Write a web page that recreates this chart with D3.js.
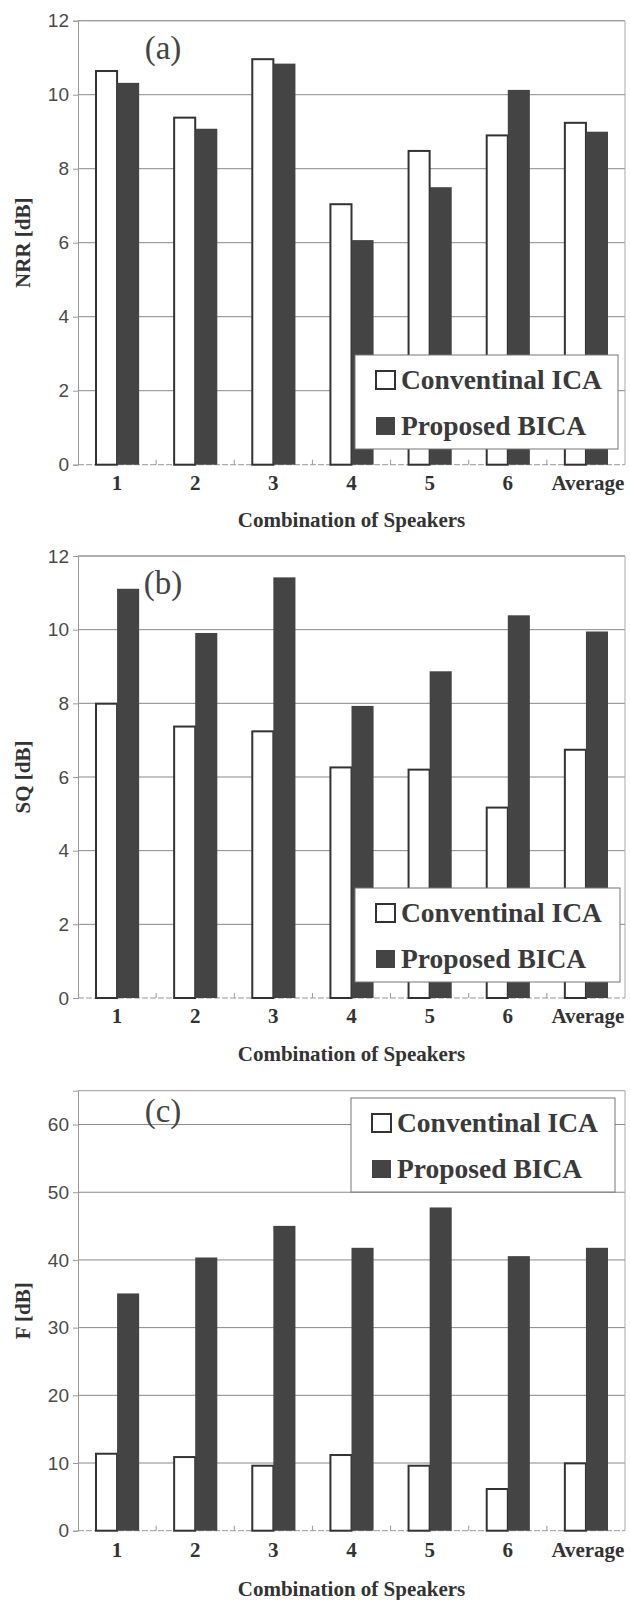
<!DOCTYPE html>
<html><head><meta charset="utf-8">
<script src="https://cdn.jsdelivr.net/npm/d3@7"></script>
<style>body{margin:0;background:#fff}svg{display:block}</style>
</head><body>
<script>
const categories = ["1","2","3","4","5","6","Average"];
const seriesNames = ["Conventinal ICA","Proposed BICA"];
const nrrConventional = [10.64,9.38,10.96,7.04,8.48,8.90,9.24];
const nrrProposed     = [10.32,9.08,10.84,6.07,7.50,10.13,9.00];
const sqConventional  = [7.99,7.37,7.24,6.26,6.20,5.17,6.74];
const sqProposed      = [11.11,9.91,11.42,7.93,8.87,10.39,9.95];
const fConventional   = [11.37,10.88,9.60,11.18,9.60,6.16,9.95];
const fProposed       = [35.05,40.36,45.03,41.79,47.75,40.56,41.79];
const nrrTicks = [0,2,4,6,8,10,12];
const sqTicks  = [0,2,4,6,8,10,12];
const fTicks   = [0,10,20,30,40,50,60];
const xTitle = "Combination of Speakers";

const panels = [
  {label:"(a)", yTitle:"NRR [dB]", a:nrrConventional, b:nrrProposed, ticks:nrrTicks, max:12,
   top:20.7, bottom:464.7, labelY:59, tickY:490, titleY:527, leg:{x:355,y:355,w:263,h:94}},
  {label:"(b)", yTitle:"SQ [dB]", a:sqConventional, b:sqProposed, ticks:sqTicks, max:12,
   top:556, bottom:998, labelY:594, tickY:1023, titleY:1061, leg:{x:355,y:888,w:265,h:94}},
  {label:"(c)", yTitle:"F [dB]", a:fConventional, b:fProposed, ticks:fTicks, max:65,
   top:1090.7, bottom:1530.7, labelY:1122, tickY:1557, titleY:1596, leg:{x:351,y:1098,w:264,h:94}}
];

const W = 630, H = 1600, left = 78, right = 625;
const svg = d3.select("body").append("svg").attr("width",W).attr("height",H);
const serif = "'Liberation Serif','Times New Roman',serif";
const sans = "'Liberation Sans',Arial,sans-serif";

const x0 = d3.scaleBand().domain(categories).range([left,right]).paddingInner(0.435).paddingOuter(0.2175);
const x1 = d3.scaleBand().domain(seriesNames).range([0,x0.bandwidth()]).padding(0);

panels.forEach(p => {
  const g = svg.append("g");
  const y = d3.scaleLinear().domain([0,p.max]).range([p.bottom,p.top]);

  // grid lines
  g.selectAll(".grid").data(p.ticks.filter(t=>t>0)).join("line")
    .attr("x1",left).attr("x2",right).attr("y1",d=>y(d)).attr("y2",d=>y(d))
    .attr("stroke","#8a8a8a").attr("stroke-width",1);
  // frame
  g.append("line").attr("x1",left).attr("x2",right).attr("y1",p.top).attr("y2",p.top).attr("stroke","#9a9a9a");
  g.append("line").attr("x1",right).attr("x2",right).attr("y1",p.top).attr("y2",p.bottom).attr("stroke","#aaa");

  // y axis
  const ya = d3.axisLeft(y).tickValues(p.ticks).tickSize(5).tickPadding(4).tickFormat(d3.format("d"));
  const yg = g.append("g").attr("transform",`translate(${left},0)`).call(ya);
  yg.select(".domain").attr("stroke","#999");
  yg.selectAll(".tick line").attr("stroke","#999");
  yg.selectAll("text").attr("font-family",sans).attr("font-size",19).attr("fill","#4a4a4a");

  // x axis baseline + boundary ticks
  g.append("line").attr("x1",left).attr("x2",right).attr("y1",p.bottom).attr("y2",p.bottom)
    .attr("stroke","#999").attr("stroke-dasharray","6,2");
  const bounds = categories.slice(1).map(c => x0(c) - x0.step()*x0.paddingInner()/2);
  g.selectAll(".bt").data(bounds).join("line")
    .attr("x1",d=>d).attr("x2",d=>d).attr("y1",p.bottom).attr("y2",p.bottom-5).attr("stroke","#999");

  // bars
  const rows = categories.map((c,i)=>({c, vals:[{s:seriesNames[0],v:p.a[i]},{s:seriesNames[1],v:p.b[i]}]}));
  const cg = g.selectAll(".cat").data(rows).join("g").attr("transform",d=>`translate(${x0(d.c)},0)`);
  cg.selectAll("rect").data(d=>d.vals).join("rect")
    .attr("x",d=>x1(d.s)+(d.s===seriesNames[0]?1:0))
    .attr("width",d=>x1.bandwidth()-(d.s===seriesNames[0]?1:0))
    .attr("y",d=>y(d.v)).attr("height",d=>y(0)-y(d.v))
    .attr("fill",d=>d.s===seriesNames[0]?"#fff":"#444")
    .attr("stroke",d=>d.s===seriesNames[0]?"#333":"none")
    .attr("stroke-width",2);

  // x tick labels
  g.selectAll(".xl").data(categories).join("text")
    .attr("x",d=>x0(d)+x0.bandwidth()/2 + (d==="Average"?2:0)).attr("y",p.tickY)
    .attr("text-anchor","middle").attr("font-family",serif).attr("font-weight","bold")
    .attr("font-size",21).attr("fill","#333").text(d=>d);

  // x title
  g.append("text").attr("x",351.5).attr("y",p.titleY).attr("text-anchor","middle")
    .attr("font-family",serif).attr("font-weight","bold").attr("font-size",21).attr("fill","#333").text(xTitle);

  // y title
  g.append("text").attr("transform",`translate(30,${(p.top+p.bottom)/2}) rotate(-90)`)
    .attr("text-anchor","middle").attr("font-family",serif).attr("font-weight","bold")
    .attr("font-size",21).attr("fill","#333").text(p.yTitle);

  // panel label
  g.append("text").attr("x",163).attr("y",p.labelY).attr("text-anchor","middle")
    .attr("font-family",serif).attr("font-size",33).attr("fill","#444").text(p.label);

  // legend
  const L = p.leg;
  const lg = g.append("g").attr("transform",`translate(${L.x},${L.y})`);
  lg.append("rect").attr("width",L.w).attr("height",L.h).attr("fill","#fff").attr("stroke","#777");
  seriesNames.forEach((s,i)=>{
    const by = 34 + i*46;
    lg.append("rect").attr("x",21).attr("y",by-18).attr("width",19).attr("height",18)
      .attr("fill",i===0?"#fff":"#444").attr("stroke",i===0?"#333":"none").attr("stroke-width",2);
    lg.append("text").attr("x",46).attr("y",by).attr("font-family",serif).attr("font-weight","bold")
      .attr("font-size",27.5).attr("fill","#3a3a3a").text(s);
  });
});
</script>
</body></html>
